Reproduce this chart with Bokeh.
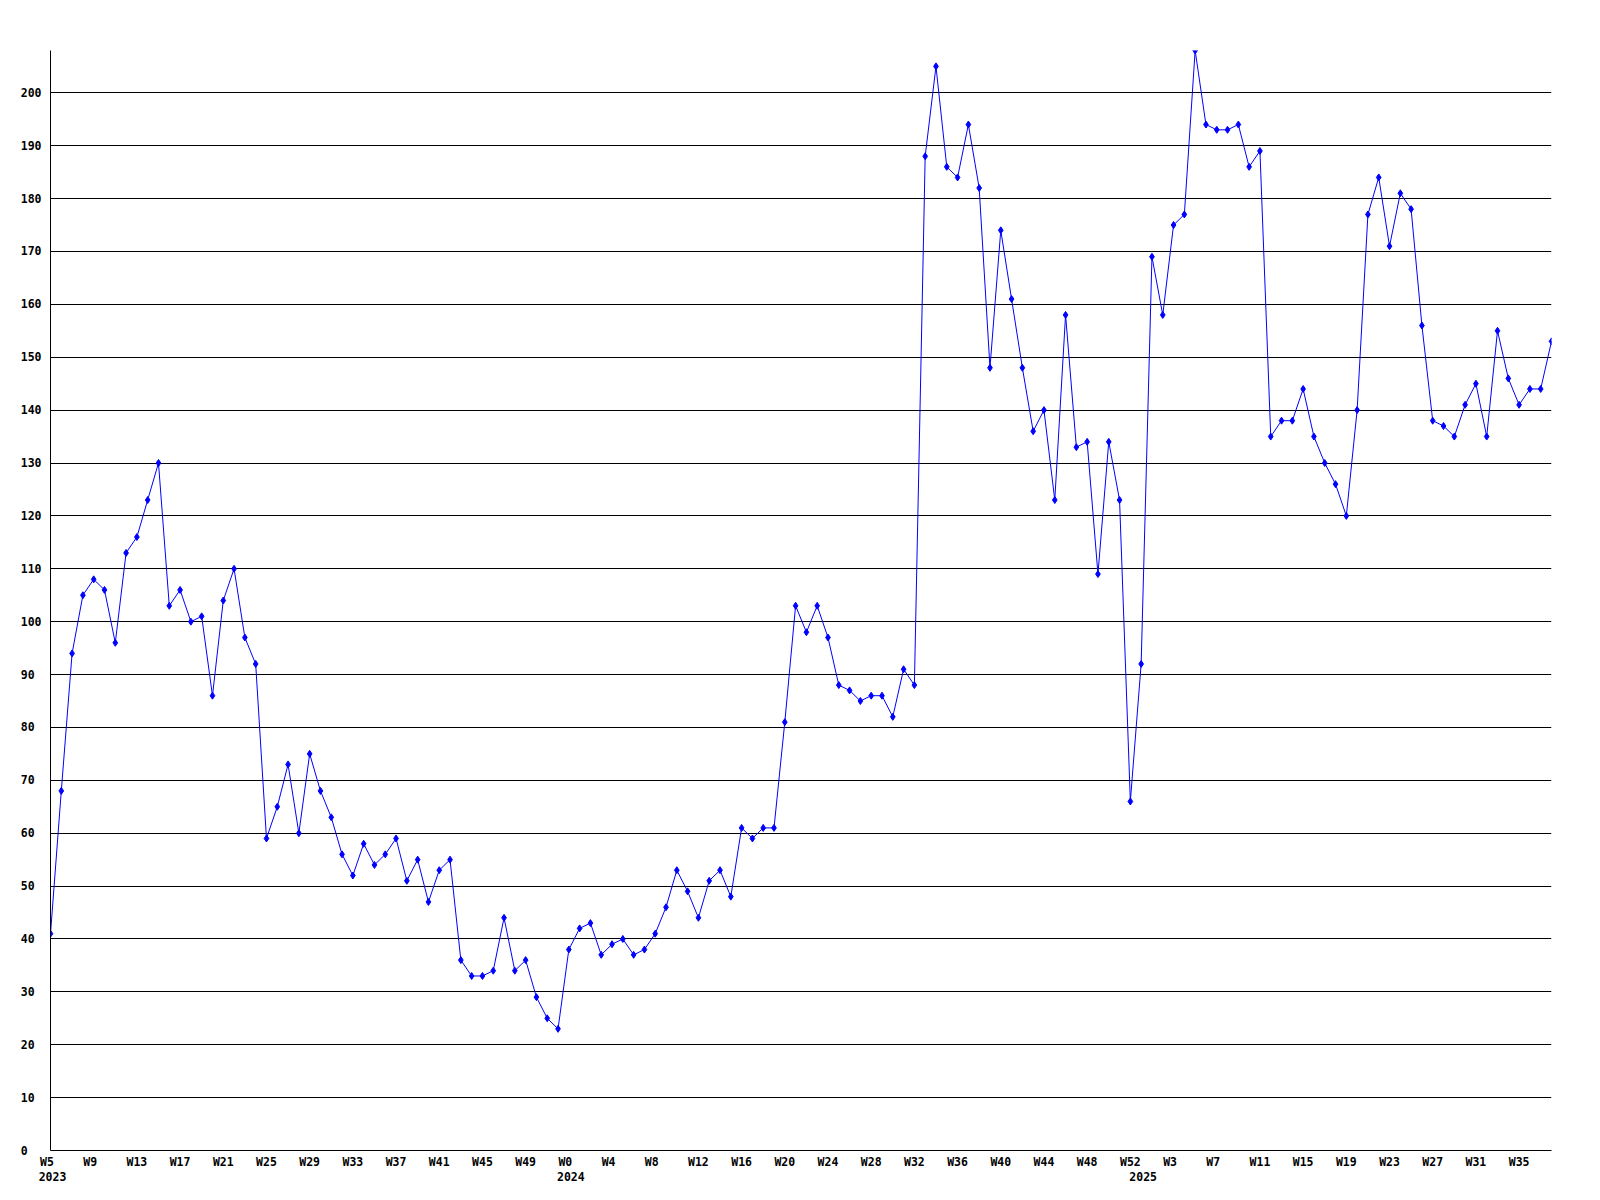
from bokeh.plotting import figure
from bokeh.models import Range1d, FixedTicker, LinearAxis, ColumnDataSource, Grid
from bokeh.embed import file_html
from bokeh.resources import INLINE

# weekly values, 2023 W5 .. 2025 W38
values = [41, 68, 94, 105, 108, 106, 96, 113, 116, 123, 130, 103, 106, 100, 101, 86, 104, 110, 97, 92,
          59, 65, 73, 60, 75, 68, 63, 56, 52, 58, 54, 56, 59, 51, 55, 47, 53, 55, 36, 33,
          33, 34, 44, 34, 36, 29, 25, 23, 38, 42, 43, 37, 39, 40, 37, 38, 41, 46, 53, 49,
          44, 51, 53, 48, 61, 59, 61, 61, 81, 103, 98, 103, 97, 88, 87, 85, 86, 86, 82, 91,
          88, 188, 205, 186, 184, 194, 182, 148, 174, 161, 148, 136, 140, 123, 158, 133, 134, 109, 134, 123,
          66, 92, 169, 158, 175, 177, 208, 194, 193, 193, 194, 186, 189, 135, 138, 138, 144, 135, 130, 126,
          120, 140, 177, 184, 171, 181, 178, 156, 138, 137, 135, 141, 145, 135, 155, 146, 141, 144, 144, 153]

week_tick_labels = ["W5", "W9", "W13", "W17", "W21", "W25", "W29", "W33", "W37", "W41", "W45", "W49",
                    "W0", "W4", "W8", "W12", "W16", "W20", "W24", "W28", "W32", "W36", "W40", "W44",
                    "W48", "W52", "W3", "W7", "W11", "W15", "W19", "W23", "W27", "W31", "W35"]
year_labels = ["2023", "2024", "2025"]
year_start_index = [0, 48, 101]
y_ticks = list(range(0, 201, 10))

FONT = "DejaVu Sans Mono"
FSIZE = "11.5px"
NBSP = "\u00a0"

W, H = 1592, 1192
BL, BR, BT, BB = 50, 41, 50, 42
n = len(values)
px_per_week = (W - BL - BR) / (n - 1)

src = ColumnDataSource(dict(x=list(range(n)), y=values))

p = figure(width=W, height=H, output_backend="svg", toolbar_location=None,
           x_range=Range1d(0, n - 1), y_range=Range1d(0, max(values)),
           x_axis_type=None, y_axis_type=None,
           min_border_left=BL, min_border_right=BR, min_border_top=BT, min_border_bottom=BB)
p.outline_line_color = None
p.background_fill_color = "white"
p.border_fill_color = "white"


def style_axis(ax, standoff, line=True):
    ax.axis_line_color = "black" if line else None
    ax.axis_line_width = 1
    ax.major_tick_line_color = None
    ax.minor_tick_line_color = None
    ax.major_tick_out = 0
    ax.major_tick_in = 0
    ax.minor_tick_out = 0
    ax.major_label_standoff = standoff
    ax.major_label_text_font = FONT
    ax.major_label_text_font_style = "bold"
    ax.major_label_text_font_size = FSIZE
    ax.major_label_text_color = "black"


# week labels (padded so all share a left edge relative to their tick)
week_ticks = list(range(0, n, 4))[:len(week_tick_labels)]
xax = LinearAxis(ticker=FixedTicker(ticks=week_ticks),
                 major_label_overrides={t: lab.ljust(3, NBSP) for t, lab in zip(week_ticks, week_tick_labels)})
style_axis(xax, 4)
p.add_layout(xax, "below")

# year labels, aligned with the week labels' left edge
shift = 2.0 / px_per_week
year_ticks = [i + shift for i in year_start_index]
yax2 = LinearAxis(ticker=FixedTicker(ticks=year_ticks),
                  major_label_overrides={t: lab for t, lab in zip(year_ticks, year_labels)})
style_axis(yax2, 0, line=False)
p.add_layout(yax2, "below")

# y axis, labels left-aligned in a 3-character field
yax = LinearAxis(ticker=FixedTicker(ticks=y_ticks),
                 major_label_overrides={v: str(v).ljust(3, NBSP) for v in y_ticks})
style_axis(yax, 9)
p.add_layout(yax, "left")

p.add_layout(Grid(dimension=1, ticker=FixedTicker(ticks=y_ticks[1:]),
                  grid_line_color="black", grid_line_width=1))

p.line(x="x", y="y", source=src, line_color="#0000ff", line_width=1)
p.scatter(x="x", y="y", source=src, marker="diamond", size=7, color="#0000ff")

open("out.html", "w").write(file_html(p, INLINE))
